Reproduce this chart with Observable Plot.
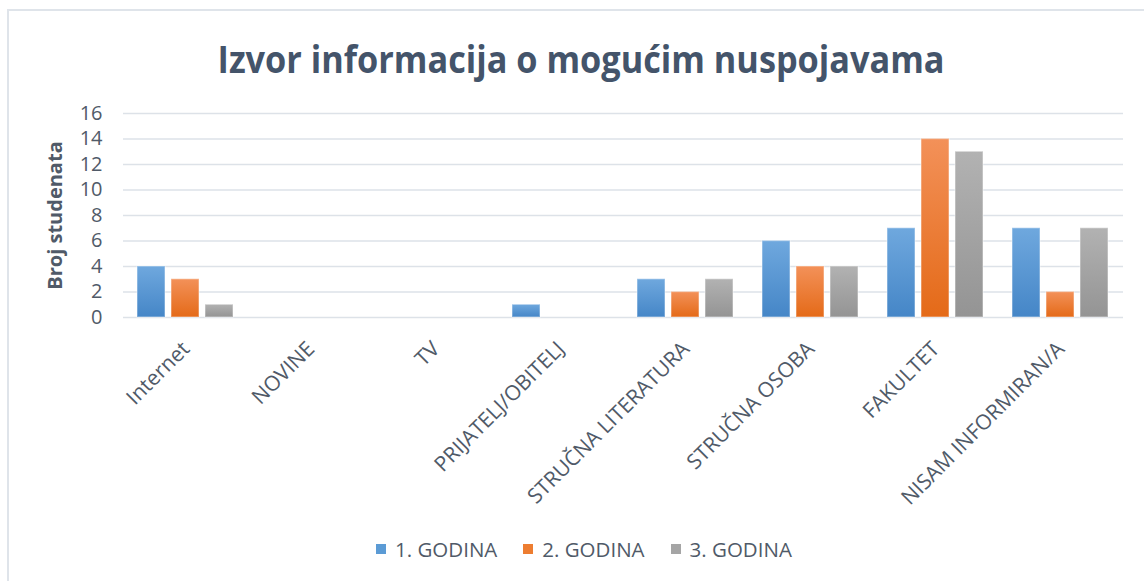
<!DOCTYPE html>
<html>
<head>
<meta charset="utf-8">
<script src="https://cdn.jsdelivr.net/npm/d3@7"></script>
<script src="https://cdn.jsdelivr.net/npm/@observablehq/plot@0.6"></script>
<style>
  html, body { margin: 0; padding: 0; background: #fff; width: 1144px; height: 581px; overflow: hidden; }
  #frame { position: absolute; left: 7px; top: 9px; width: 1200px; height: 600px;
           border-left: 2px solid #dfe4ea; border-top: 2px solid #dfe4ea; }
  #title { position: absolute; top: 32px; left: 9px; width: 1144px; text-align: center;
           font-family: 'Open Sans', sans-serif; font-weight: 700; font-size: 38px; line-height: 52px;
           color: #44546a; white-space: nowrap; }
  #title span { display: inline-block; transform-origin: center; }
  #chart { position: absolute; left: 0; top: 95px; }
  #chart [aria-label="y-axis label"] text, #chart [aria-label="y-axis"] [aria-label="label"] { font-weight: 700; }
  #chart [aria-label="fx-axis tick label"] text, #chart [aria-label="fx-axis"] .tick text { font-size: 21px; }
  #legend { position: absolute; top: 535px; left: 376px; display: flex; align-items: center;
            font-family: 'Open Sans', sans-serif; font-size: 20.5px; color: #505a68; white-space: nowrap; }
  #legend .item { display: flex; align-items: center; margin-right: 26px; }
  #legend .sw { width: 10px; height: 10px; margin-right: 9px; }
</style>
</head>
<body>
<div id="frame"></div>
<div id="title"><span>Izvor informacija o mogućim nuspojavama</span></div>
<div id="chart"></div>
<div id="legend"></div>
<script>
const categories = ["Internet", "NOVINE", "TV", "PRIJATELJ/OBITELJ", "STRUČNA LITERATURA", "STRUČNA OSOBA", "FAKULTET", "NISAM INFORMIRAN/A"];
const series = ["1. GODINA", "2. GODINA", "3. GODINA"];
const godina1 = [4, 0, 0, 1, 3, 6, 7, 7];
const godina2 = [3, 0, 0, 0, 2, 4, 14, 2];
const godina3 = [1, 0, 0, 0, 3, 4, 13, 7];
const yTicks = [0, 2, 4, 6, 8, 10, 12, 14, 16];
const seriesColors = ["#5b9bd5", "#ed7d31", "#a5a5a5"];
const gradTop = ["#6fa8de", "#f39159", "#b2b2b2"];
const gradBottom = ["#4586c7", "#e46a18", "#949494"];

const valuesBySeries = [godina1, godina2, godina3];
const data = [];
categories.forEach((c, i) => {
  series.forEach((s, j) => data.push({cat: c, series: s, value: valuesBySeries[j][i]}));
});
const gradIds = series.map((s, j) => "grad" + j);

const chart = Plot.plot({
  width: 1144,
  height: 420,
  marginTop: 18,
  marginBottom: 198,
  marginLeft: 123,
  marginRight: 21,
  style: {fontFamily: "'Open Sans', sans-serif", fontSize: "20px", color: "#505a68", background: "transparent", overflow: "visible"},
  fx: {domain: categories, padding: 0, axis: "bottom", tickRotate: -45, tickSize: 0, tickPadding: 28, label: null},
  x: {domain: series, paddingInner: 0.176, paddingOuter: 0.426, axis: null},
  y: {domain: [0, 16], ticks: yTicks, tickSize: 0, tickPadding: 21, label: "Broj studenata", labelArrow: "none", labelAnchor: "center", labelOffset: 76},
  color: {domain: series, range: gradIds.map(id => `url(#${id})`)},
  marks: [
    Plot.ruleY(yTicks, {stroke: "#dde2e8", strokeWidth: 1.6}),
    Plot.barY(data, {fx: "cat", x: "series", y: "value", fill: "series"}),
    Plot.barY(data, {filter: d => d.value > 0, fx: "cat", x: "series", y: "value", fill: "none", stroke: "#ffffff", strokeOpacity: 0.35, strokeWidth: 1.5})
  ]
});

const svg = d3.select(chart.tagName.toLowerCase() === "svg" ? chart : chart.querySelector("svg"));
const defs = svg.insert("defs", ":first-child");
gradIds.forEach((id, j) => {
  const g = defs.append("linearGradient").attr("id", id).attr("x1", 0).attr("y1", 0).attr("x2", 0).attr("y2", 1);
  g.append("stop").attr("offset", "0%").attr("stop-color", gradTop[j]);
  g.append("stop").attr("offset", "100%").attr("stop-color", gradBottom[j]);
});
// strip any arrow Plot may add to the axis label
svg.selectAll("text").each(function() {
  const t = d3.select(this);
  if (this.childElementCount === 0 && /[↑↓]/.test(t.text())) t.text(t.text().replace(/\s*[↑↓]\s*/g, "").trim());
});
document.getElementById("chart").appendChild(chart);

// legend
const legend = d3.select("#legend");
series.forEach((s, j) => {
  const item = legend.append("div").attr("class", "item");
  item.append("div").attr("class", "sw").style("background", seriesColors[j]);
  item.append("span").text(s);
});

// fit title width
const span = document.querySelector("#title span");
const w = span.getBoundingClientRect().width;
span.style.transform = `scaleX(${727 / w})`;
</script>
</body>
</html>
